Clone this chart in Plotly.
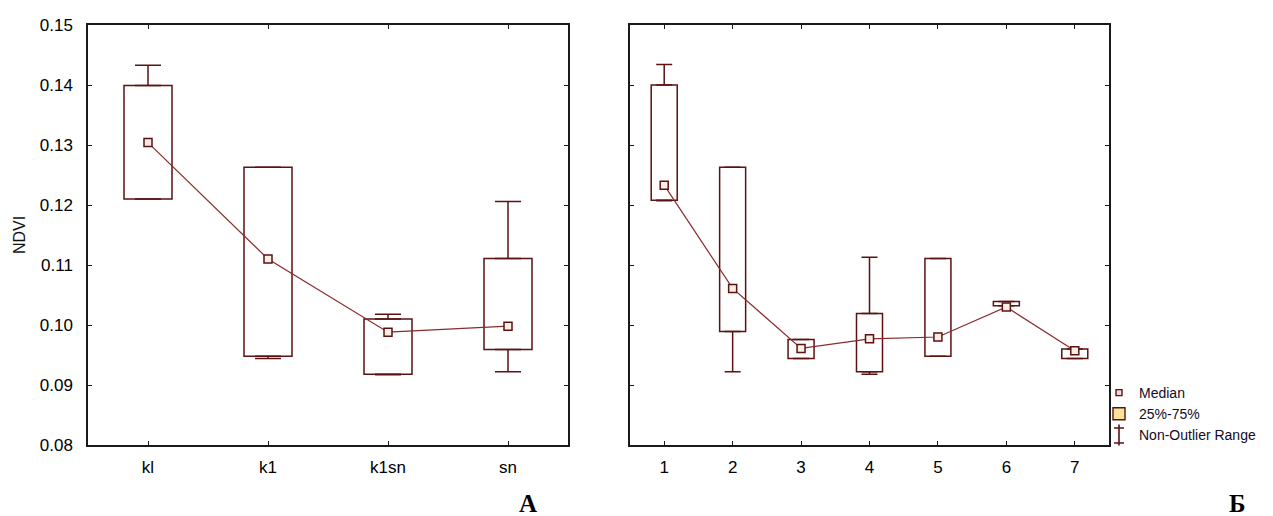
import plotly.graph_objects as go

# ---------------- data ----------------
left_cats = ["kl", "k1", "k1sn", "sn"]
left_q1 = [0.1210, 0.0948, 0.0918, 0.0959]
left_q3 = [0.1399, 0.1263, 0.1010, 0.1111]
left_med = [0.1304, 0.1110, 0.0988, 0.0998]
left_lo = [0.1210, 0.0944, 0.0917, 0.0922]
left_hi = [0.1433, 0.1263, 0.1018, 0.1206]

right_cats = ["1", "2", "3", "4", "5", "6", "7"]
right_q1 = [0.1208, 0.0989, 0.0944, 0.0922, 0.0948, 0.1032, 0.0944]
right_q3 = [0.1400, 0.1263, 0.0976, 0.1019, 0.1111, 0.1039, 0.0960]
right_med = [0.1233, 0.1061, 0.0961, 0.0977, 0.0980, 0.1030, 0.0957]
right_lo = [0.1207, 0.0922, 0.0944, 0.0918, 0.0948, 0.1032, 0.0944]
right_hi = [0.1434, 0.1263, 0.0976, 0.1113, 0.1111, 0.1039, 0.0960]

y_ticks = [0.08, 0.09, 0.10, 0.11, 0.12, 0.13, 0.14, 0.15]
y_ticktext = ["0.08", "0.09", "0.10", "0.11", "0.12", "0.13", "0.14", "0.15"]

# ---------------- style ----------------
W, H = 1273, 516
DARK = "#5a1212"
LINE = "#8a2a2a"
MED_FILL = "#fbeee2"
FRAME = "#1a1a1a"
FONT = "Liberation Sans, Arial, sans-serif"

fig = go.Figure()


def add_panel(cats, q1, q3, med, lo, hi, xa, ya, box_w, cap_w):
    fig.add_trace(go.Bar(
        x=cats, y=[b - a for a, b in zip(q1, q3)], base=q1, width=box_w,
        marker=dict(color="white", line=dict(color=DARK, width=1.5)),
        xaxis=xa, yaxis=ya, showlegend=False, hoverinfo="skip"))
    # upper whiskers
    fig.add_trace(go.Scatter(
        x=cats, y=q3, mode="markers",
        marker=dict(size=1, color="rgba(0,0,0,0)"),
        error_y=dict(type="data", symmetric=False,
                     array=[h - b for h, b in zip(hi, q3)],
                     arrayminus=[0] * len(cats),
                     color=DARK, thickness=1.5, width=cap_w),
        xaxis=xa, yaxis=ya, showlegend=False, hoverinfo="skip"))
    # lower whiskers
    fig.add_trace(go.Scatter(
        x=cats, y=q1, mode="markers",
        marker=dict(size=1, color="rgba(0,0,0,0)"),
        error_y=dict(type="data", symmetric=False,
                     array=[0] * len(cats),
                     arrayminus=[a - l for a, l in zip(q1, lo)],
                     color=DARK, thickness=1.5, width=cap_w),
        xaxis=xa, yaxis=ya, showlegend=False, hoverinfo="skip"))
    # medians
    fig.add_trace(go.Scatter(
        x=cats, y=med, mode="lines+markers",
        line=dict(color=LINE, width=1.2),
        marker=dict(symbol="square", size=8, color=MED_FILL,
                    line=dict(color=DARK, width=1.5)),
        xaxis=xa, yaxis=ya, showlegend=False))


add_panel(left_cats, left_q1, left_q3, left_med, left_lo, left_hi, "x", "y", 0.4, 13)
add_panel(right_cats, right_q1, right_q3, right_med, right_lo, right_hi, "x2", "y2", 0.38, 8)

# legend entries
fig.add_trace(go.Scatter(
    x=[None], y=[None], mode="markers", name="Median",
    marker=dict(symbol="square", size=6, color="#f6d8dc", line=dict(color=DARK, width=1.4)),
    xaxis="x2", yaxis="y2"))
fig.add_trace(go.Bar(
    x=[None], y=[None], name="25%-75%",
    marker=dict(color="#f7e49a", line=dict(color=DARK, width=1.4)),
    xaxis="x2", yaxis="y2"))
fig.add_trace(go.Scatter(
    x=[None], y=[None], mode="markers", name="Non-Outlier Range",
    marker=dict(symbol="line-ns", size=15, color=DARK, line=dict(color=DARK, width=1.6)),
    xaxis="x2", yaxis="y2"))

x_l = (88 / W, 568 / W)
x_r = (630 / W, 1109 / W)
y_d = (1 - 445 / H, 1 - 25 / H)

axis_common = dict(
    showline=True, linecolor=FRAME, linewidth=1.5, mirror="ticks",
    ticks="inside", ticklen=4, tickwidth=1.2, tickcolor=FRAME,
    showgrid=False, zeroline=False, automargin=False,
    tickfont=dict(family=FONT, size=17, color="#000000"),
)

# caps for the legend's whisker icon (legend decoration only)
cap_shapes = [
    dict(type="line", xref="paper", yref="paper",
         x0=1114 / W, x1=1124 / W, y0=1 - yy / H, y1=1 - yy / H,
         line=dict(color=DARK, width=1.5))
    for yy in (428, 443)
]

fig.update_layout(
    width=W, height=H,
    margin=dict(l=0, r=0, t=0, b=0),
    paper_bgcolor="white", plot_bgcolor="white",
    barmode="overlay",
    showlegend=True,
    legend=dict(x=1099 / W, y=1 - 377 / H, xanchor="left", yanchor="top",
                font=dict(family=FONT, size=14, color="#140a28"),
                bgcolor="rgba(0,0,0,0)", tracegroupgap=0, itemwidth=30),
    xaxis=dict(domain=x_l, type="category", range=[-0.5, 3.5], anchor="y",
               ticklabelstandoff=6, **axis_common),
    yaxis=dict(domain=y_d, range=[0.08, 0.15], anchor="x",
               tickvals=y_ticks, ticktext=y_ticktext, ticklabelstandoff=10,
               title=dict(text="NDVI", font=dict(family=FONT, size=16, color="#111111"), standoff=10),
               **axis_common),
    xaxis2=dict(domain=x_r, type="category", range=[-0.5, 6.5], anchor="y2",
                ticklabelstandoff=6, **axis_common),
    yaxis2=dict(domain=y_d, range=[0.08, 0.15], anchor="x2",
                tickvals=y_ticks, showticklabels=False, **axis_common),
    shapes=cap_shapes,
    annotations=[
        dict(text="<b>А</b>", x=528 / W, y=1 - 519 / H, xref="paper", yref="paper",
             showarrow=False, font=dict(family="Liberation Serif, Times New Roman, serif", size=25, color="black")),
        dict(text="<b>Б</b>", x=1248 / W, y=1 - 519 / H, xref="paper", yref="paper",
             showarrow=False, font=dict(family="Liberation Serif, Times New Roman, serif", size=25, color="black")),
    ],
)

fig.write_html("out.html")
